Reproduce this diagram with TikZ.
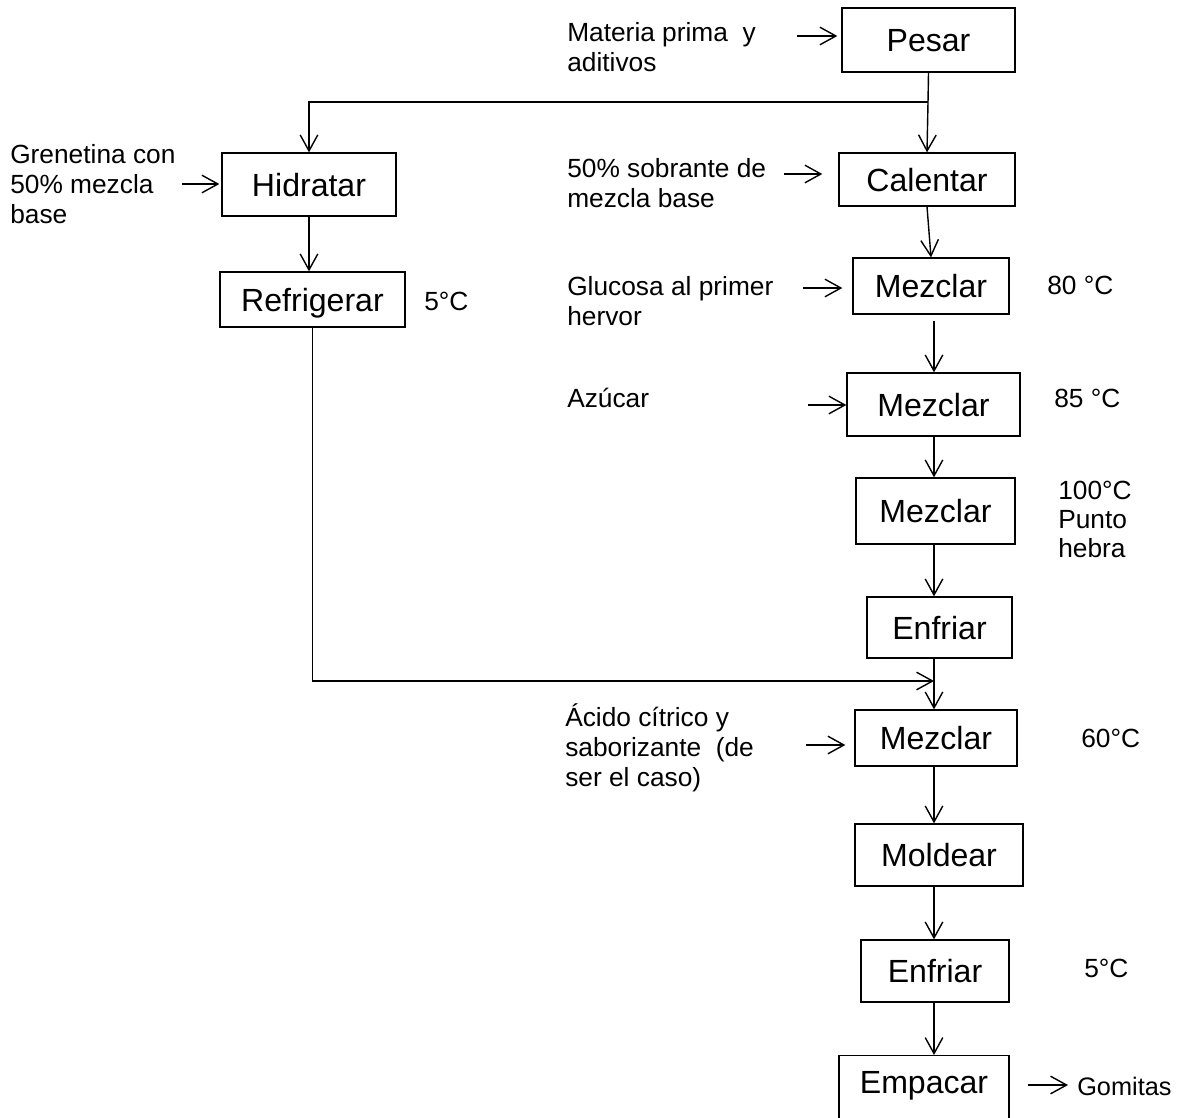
\documentclass[tikz,border=0pt]{standalone}
\usepackage{fontspec}
\setmainfont{Liberation Sans}
\usetikzlibrary{arrows.meta}

\begin{document}
\begin{tikzpicture}[x=0.025cm,y=-0.025cm]
        \tikzstyle{paso}=[draw, line width=0.9pt, inner sep=0pt, text height=5.8mm, text depth=0pt, font=\fontsize{22.8}{27}\selectfont]
        \tikzstyle{nota}=[anchor=base west, align=left, inner sep=0pt, font=\fontsize{18.7}{21.3}\selectfont]
        \tikzstyle{flecha}=[line width=1pt, -{Straight Barb[length=4mm,width=4.4mm]}]

        \useasboundingbox (0,0) rectangle (1187,1117);

        % pasos del proceso
        \node[paso, minimum width=173*0.25mm, minimum height=64*0.25mm] (pesar)      at (928.5,40)  {Pesar};
        \node[paso, minimum width=174*0.25mm, minimum height=63*0.25mm] (hidratar)   at (309,184.5) {Hidratar};
        \node[paso, minimum width=176*0.25mm, minimum height=53*0.25mm] (calentar)   at (927,179.5) {Calentar};
        \node[paso, minimum width=185*0.25mm, minimum height=55*0.25mm] (refrigerar) at (312.5,299.5) {Refrigerar};
        \node[paso, minimum width=156*0.25mm, minimum height=56*0.25mm] (mezclarA)   at (931,286)   {Mezclar};
        \node[paso, minimum width=173*0.25mm, minimum height=63*0.25mm] (mezclarB)   at (933.5,404.5) {Mezclar};
        \node[paso, minimum width=159*0.25mm, minimum height=66*0.25mm] (mezclarC)   at (935.5,511) {Mezclar};
        \node[paso, minimum width=145*0.25mm, minimum height=61*0.25mm] (enfriarA)   at (939.5,627.5) {Enfriar};
        \node[paso, minimum width=162*0.25mm, minimum height=56*0.25mm] (mezclarD)   at (936,738)   {Mezclar};
        \node[paso, minimum width=168*0.25mm, minimum height=62*0.25mm] (moldear)    at (939,855)   {Moldear};
        \node[paso, minimum width=148*0.25mm, minimum height=62*0.25mm] (enfriarB)   at (935,971)   {Enfriar};
        \node[paso, minimum width=170*0.25mm, text height=9.5mm, text depth=10mm, anchor=north] (empacar) at (924,1055) {Empacar};

        % entradas y condiciones
        \node[nota] (materia)   at (567,71)  {Materia prima \ y\\aditivos};
        \node[nota] (grenetina) at (10,223)  {Grenetina con\\50\% mezcla\\base};
        \node[nota] (sobrante)  at (567,207) {50\% sobrante de\\mezcla base};
        \node[nota] (glucosa)   at (567,325) {Glucosa al primer\\hervor};
        \node[nota] (azucar)    at (567,407) {Azúcar};
        \node[nota] (acido)     at (565,786) {Ácido cítrico y\\saborizante \ (de\\ser el caso)};
        \node[nota] (tempRef)   at (424,310) {5°C};
        \node[nota] (tempA)     at (1047,294) {80 °C};
        \node[nota] (tempB)     at (1054,407) {85 °C};
        \node[nota, font=\fontsize{18.7}{20.6}\selectfont] (tempC) at (1058,557) {100°C\\Punto\\hebra};
        \node[nota] (tempD)     at (1081,747) {60°C};
        \node[nota] (tempE)     at (1084,977) {5°C};
        \node[nota, font=\fontsize{18}{21}\selectfont] (gomitas) at (1077,1095) {Gomitas};

        \coordinate (split) at (928,102);
        \coordinate (merge) at (934,681);
        \coordinate (eje) at (934,0);
        \coordinate (inMateria)   at (797,36);
        \coordinate (inGrenetina) at (182,184);
        \coordinate (inSobrante)  at (784,174);
        \coordinate (inGlucosa)   at (803,288);
        \coordinate (inAzucar)    at (808,405);
        \coordinate (inAcido)     at (806,745);
        \coordinate (outGomitas)  at (1068,1085);

        % flujo principal
        \draw[line width=1pt] (pesar.south) -- (split);
        \draw[flecha] (split) -| (hidratar.north);
        \draw[flecha] (split) -- (calentar.north);
        \draw[flecha] (calentar.south) -- (mezclarA.north);
        \draw[flecha, shorten <=1.5mm] (mezclarA.south -| eje) -- (mezclarB.north -| eje);
        \foreach \a/\b in {mezclarB/mezclarC, mezclarC/enfriarA, enfriarA/mezclarD, mezclarD/moldear, moldear/enfriarB, enfriarB/empacar}
            \draw[flecha] (\a.south -| eje) -- (\b.north -| eje);
        \draw[flecha] (hidratar.south) -- (hidratar.south |- refrigerar.north);
        \draw[flecha] (refrigerar.south) |- (merge);

        % entradas
        \draw[flecha, shorten >=1mm]    (inMateria)   -- (inMateria -| pesar.west);
        \draw[flecha, shorten >=0.5mm]  (inGrenetina) -- (inGrenetina -| hidratar.west);
        \draw[flecha, shorten >=4mm]    (inSobrante)  -- (inSobrante -| calentar.west);
        \draw[flecha, shorten >=2.5mm]  (inGlucosa)   -- (inGlucosa -| mezclarA.west);
        \draw[flecha]                   (inAzucar)    -- (inAzucar -| mezclarB.west);
        \draw[flecha, shorten >=2.25mm] (inAcido)     -- (inAcido -| mezclarD.west);
        \draw[flecha, shorten <=4.5mm]  (outGomitas -| empacar.east) -- (outGomitas);
    \end{tikzpicture}
\end{document}
